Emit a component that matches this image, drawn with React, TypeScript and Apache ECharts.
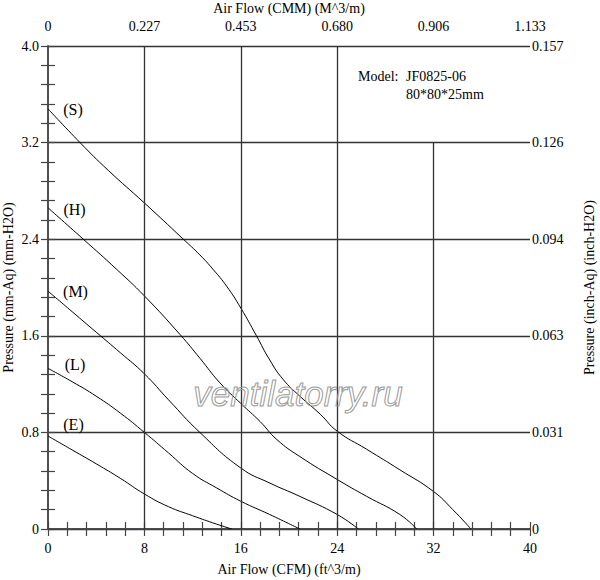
import React, { useEffect, useRef } from "react";
import * as echarts from "echarts";

// Bottom axis (CFM) and left axis (mm-Aq) scales
const cfmTicks = [0, 8, 16, 24, 32, 40];
const cmmLabels = ["0", "0.227", "0.453", "0.680", "0.906", "1.133"];
const mmLabels = ["0", "0.8", "1.6", "2.4", "3.2", "4.0"];
const inchLabels = ["0", "0.031", "0.063", "0.094", "0.126", "0.157"];

// P-Q curves [CFM, mm-Aq]
const curveS = [
  [0, 3.48], [2.66, 3.2], [5, 2.97], [8, 2.7], [11.23, 2.4], [12.6, 2.27],
  [13.7, 2.15], [14.83, 2.01], [16, 1.83], [17.3, 1.6], [18.4, 1.4],
  [19.5, 1.24], [20.9, 1.1], [22.6, 0.95], [24, 0.81], [26.45, 0.66],
  [29.2, 0.49], [32, 0.31], [33.6, 0.16], [35.1, 0],
];
const curveH = [
  [0, 2.66], [2.93, 2.4], [5.7, 2.15], [8, 1.93], [10.96, 1.61], [12.6, 1.415],
  [14.27, 1.21], [16, 1.04], [17.6, 0.89], [19, 0.74], [20.9, 0.6], [24, 0.41],
  [26.45, 0.27], [29.2, 0.12], [30.6, 0],
];
const curveM = [
  [0, 1.97], [2, 1.8], [4, 1.63], [6, 1.46], [8, 1.285], [10, 1.07],
  [12.6, 0.8], [16, 0.505], [18.42, 0.38], [20.9, 0.27], [24, 0.12], [25.75, 0],
];
const curveL = [
  [0, 1.33], [2, 1.22], [4, 1.1], [6, 0.96], [8, 0.8], [10, 0.63],
  [12, 0.46], [14, 0.34], [16, 0.23], [18.4, 0.12], [20.9, 0],
];
const curveE = [
  [0, 0.77], [2, 0.655], [4, 0.54], [6, 0.42], [8, 0.29], [10, 0.185],
  [12, 0.11], [14, 0.04], [15.25, 0],
];
const curveNames = ["(S)", "(H)", "(M)", "(L)", "(E)"];

// vertical grid lines: x position and top value
const vGridX = [8, 16, 24, 32];
const vGridTop = [4, 4, 4, 3.2];

const modelLabel = "Model:";
const modelName = "JF0825-06";
const modelSize = "80*80*25mm";
const watermark = "ventilatorry.ru";

const FONT = "Liberation Serif";

export default function App() {
  const ref = useRef<HTMLDivElement>(null);
  useEffect(() => {
    if (!ref.current) return;
    const chart = echarts.init(ref.current, null, { renderer: "svg" });
    const axisColor = "#444";
    const gridColor = "#333";
    const labelStyle = { color: "#000", fontSize: 14, fontFamily: FONT };
    const nameStyle = { color: "#000", fontSize: 14, fontFamily: FONT };
    const tickCommon = {
      axisLine: { show: true, lineStyle: { color: axisColor, width: 1.5 } },
      axisTick: { show: true, inside: true, length: 7, lineStyle: { color: axisColor, width: 1.2 } },
      minorTick: { show: true, splitNumber: 5, length: 7, lineStyle: { color: axisColor, width: 1.2 } },
      nameMoveOverlap: false,
    };
    const series: any[] = [curveS, curveH, curveM, curveL, curveE].map((d, i) => ({
      type: "line",
      name: curveNames[i],
      data: d,
      smooth: 0.5,
      symbol: "none",
      xAxisIndex: 0,
      yAxisIndex: 0,
      lineStyle: { color: "#000", width: 1 },
      z: 3,
    }));
    series[0].markLine = {
      silent: true,
      symbol: "none",
      label: { show: false },
      lineStyle: { color: gridColor, width: 1.3, type: "solid" },
      data: vGridX.map((x, i) => [{ coord: [x, 0] }, { coord: [x, vGridTop[i]] }]),
    };
    const labelPos = [
      [73, 109],
      [74.5, 209],
      [75.5, 291],
      [75, 364],
      [73.5, 424],
    ];
    chart.setOption({
      animation: false,
      backgroundColor: "#fff",
      grid: { left: 48, right: 70, top: 46, bottom: 51, containLabel: false, outerBoundsMode: "none" },
      xAxis: [
        {
          type: "value",
          position: "bottom",
          min: 0,
          max: 40,
          interval: 8,
          ...tickCommon,
          splitLine: { show: false },
          axisLabel: { ...labelStyle, margin: 12 },
          name: "Air Flow (CFM) (ft^3/m)",
          nameLocation: "middle",
          nameGap: 33,
          nameTextStyle: nameStyle,
        },
        {
          type: "value",
          position: "top",
          min: 0,
          max: 40,
          interval: 8,
          ...tickCommon,
          splitLine: { show: false },
          axisLabel: {
            ...labelStyle,
            margin: 13,
            formatter: (v: number) => cmmLabels[Math.round(v / 8)] ?? "",
          },
          name: "Air Flow (CMM) (M^3/m)",
          nameLocation: "middle",
          nameGap: 31,
          nameTextStyle: nameStyle,
        },
      ],
      yAxis: [
        {
          type: "value",
          position: "left",
          min: 0,
          max: 4,
          interval: 0.8,
          ...tickCommon,
          splitLine: { show: true, lineStyle: { color: gridColor, width: 1.3 } },
          axisLabel: {
            ...labelStyle,
            margin: 9,
            formatter: (v: number) => mmLabels[Math.round(v / 0.8)] ?? "",
          },
          name: "Pressure (mm-Aq) (mm-H2O)",
          nameLocation: "middle",
          nameGap: 33,
          nameTextStyle: nameStyle,
        },
        {
          type: "value",
          position: "right",
          min: 0,
          max: 4,
          interval: 0.8,
          ...tickCommon,
          splitLine: { show: false },
          axisLabel: {
            ...labelStyle,
            margin: 2,
            formatter: (v: number) => inchLabels[Math.round(v / 0.8)] ?? "",
          },
          name: "Pressure (inch-Aq) (inch-H2O)",
          nameLocation: "middle",
          nameGap: 52,
          nameRotate: 90,
          nameTextStyle: nameStyle,
        },
      ],
      series,
      graphic: [
        ...curveNames.map((n, i) => ({
          type: "text",
          x: labelPos[i][0],
          y: labelPos[i][1],
          z: 10,
          style: {
            text: n,
            fill: "#000",
            font: `16px "${FONT}"`,
            textAlign: "center",
            textVerticalAlign: "middle",
          },
        })),
        {
          type: "text",
          x: 358,
          y: 76,
          z: 10,
          style: { text: modelLabel, fill: "#000", font: `14px "${FONT}"`, textAlign: "left", textVerticalAlign: "middle" },
        },
        {
          type: "text",
          x: 406,
          y: 76,
          z: 10,
          style: { text: modelName, fill: "#000", font: `14px "${FONT}"`, textAlign: "left", textVerticalAlign: "middle" },
        },
        {
          type: "text",
          x: 406,
          y: 94,
          z: 10,
          style: { text: modelSize, fill: "#000", font: `14px "${FONT}"`, textAlign: "left", textVerticalAlign: "middle" },
        },
        {
          type: "text",
          x: 298,
          y: 393,
          z: 10,
          silent: true,
          style: {
            text: watermark,
            fill: "rgba(255,255,255,0)",
            stroke: "#9a9a9a",
            lineWidth: 1,
            font: `italic 35px "Liberation Sans"`,
            textAlign: "center",
            textVerticalAlign: "middle",
          },
        },
      ],
    });
    return () => chart.dispose();
  }, []);
  return (
    <div
      ref={ref}
      style={{ position: "absolute", left: 0, top: 0, width: 600, height: 580 }}
    />
  );
}
